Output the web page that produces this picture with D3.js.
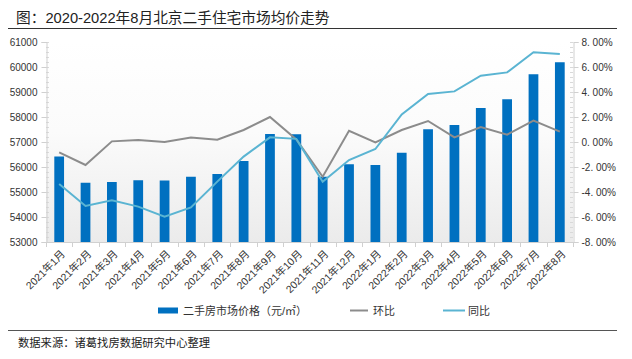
<!DOCTYPE html>
<html><head><meta charset="utf-8">
<script src="https://cdn.jsdelivr.net/npm/d3@7/dist/d3.min.js"></script>
<style>
html,body{margin:0;padding:0;background:#fff;}
svg{display:block;font-family:"Liberation Sans","Noto Sans CJK SC",sans-serif;}
</style></head>
<body><svg id="c" width="632" height="359"></svg>
<script>
const categories = ['2021年1月','2021年2月','2021年3月','2021年4月','2021年5月','2021年6月','2021年7月','2021年8月','2021年9月','2021年10月','2021年11月','2021年12月','2022年1月','2022年2月','2022年3月','2022年4月','2022年5月','2022年6月','2022年7月','2022年8月'];
const price = [56420,55370,55400,55470,55460,55610,55720,56240,57320,57310,55610,56110,56080,56570,57510,57680,58360,58710,59710,60190];
const mom = [-0.83,-1.84,0.05,0.16,0.0,0.35,0.19,0.96,2.0,0.2,-2.78,0.9,-0.03,0.96,1.68,0.37,1.2,0.59,1.71,0.83];
const yoy = [-3.36,-5.12,-4.67,-5.17,-5.97,-5.23,-3.17,-1.17,0.37,0.25,-3.18,-1.44,-0.56,2.21,3.84,4.05,5.3,5.57,7.18,7.04];
const leftTicks = [53000,54000,55000,56000,57000,58000,59000,60000,61000];
const rightTicks = [-8,-6,-4,-2,0,2,4,6,8];
const title = '图：2020-2022年8月北京二手住宅市场均价走势';
const source = '数据来源：诸葛找房数据研究中心整理';
const seriesNames = ['二手房市场价格（元/㎡）','环比','同比'];

const svg = d3.select('#c');
const L = 46, R = 573, T = 42, B = 242;
const colBar = '#0070c0', colMom = '#8c8c8c', colYoy = '#5ab4d2';

// gradient background
const defs = svg.append('defs');
const g = defs.append('linearGradient').attr('id','bg').attr('x1',0).attr('y1',0).attr('x2',0).attr('y2',1);
g.append('stop').attr('offset','0%').attr('stop-color','#ffffff');
g.append('stop').attr('offset','45%').attr('stop-color','#fbfbfb');
g.append('stop').attr('offset','100%').attr('stop-color','#ebebeb');
svg.append('rect').attr('x',L).attr('y',T).attr('width',R-L).attr('height',B-T).attr('fill','url(#bg)');

// title and rules
svg.append('text').attr('x',16).attr('y',23).attr('font-size',14.7).attr('fill','#222').text(title);
svg.append('line').attr('x1',8).attr('x2',617).attr('y1',28.5).attr('y2',28.5).attr('stroke','#333').attr('stroke-width',1.2);
svg.append('line').attr('x1',8).attr('x2',617).attr('y1',330.5).attr('y2',330.5).attr('stroke','#555').attr('stroke-width',1.2);
svg.append('text').attr('x',18).attr('y',347).attr('font-size',11.3).attr('fill','#222').text(source);

const x = d3.scaleBand().domain(categories).range([L,R]).paddingInner(0.63).paddingOuter(0.315);
const y = d3.scaleLinear().domain([53000,61000]).range([B,T]);
const y2 = d3.scaleLinear().domain([-8,8]).range([B,T]);

// minor ticks
const minorL = d3.range(53000,61001,200);
svg.append('g').selectAll('line').data(minorL).join('line')
  .attr('x1',L).attr('x2',L+3).attr('y1',d=>Math.round(y(d))+0.5).attr('y2',d=>Math.round(y(d))+0.5)
  .attr('stroke','#d9d9d9');
const minorR = d3.range(-8,8.01,0.4);
svg.append('g').selectAll('line').data(minorR).join('line')
  .attr('x1',R-3).attr('x2',R).attr('y1',d=>Math.round(y2(d))+0.5).attr('y2',d=>Math.round(y2(d))+0.5)
  .attr('stroke','#d9d9d9');

// left axis
const axL = svg.append('g').attr('transform',`translate(${L+0.5},0)`)
  .call(d3.axisLeft(y).tickValues(leftTicks).tickSize(5).tickPadding(4).tickFormat(d3.format('d')));
axL.select('.domain').attr('stroke','#d0d0d0');
axL.selectAll('.tick line').attr('stroke','#d0d0d0');
axL.selectAll('text').attr('font-size',10).attr('fill','#333').attr('font-family','Liberation Sans, sans-serif');

// right axis
const axR = svg.append('g').attr('transform',`translate(${R+0.5},0)`)
  .call(d3.axisRight(y2).tickValues(rightTicks).tickSize(5).tickPadding(3)
  .tickFormat(d=>d3.format('.2f')(d).replace('.', '. ').replace('−','-')+'%'));
axR.select('.domain').attr('stroke','#d0d0d0');
axR.selectAll('.tick line').attr('stroke','#d0d0d0');
axR.selectAll('text').attr('font-size',10).attr('fill','#333').attr('font-family','Liberation Sans, sans-serif');

// x axis
svg.append('line').attr('x1',L).attr('x2',R).attr('y1',B+0.5).attr('y2',B+0.5).attr('stroke','#d0d0d0');
const step = x.step();
const bounds = d3.range(categories.length+1).map(i=>L+i*step);
svg.append('g').selectAll('line').data(bounds).join('line')
  .attr('x1',d=>Math.round(d)+0.5).attr('x2',d=>Math.round(d)+0.5).attr('y1',B).attr('y2',B+5).attr('stroke','#d0d0d0');
svg.append('g').selectAll('text').data(categories).join('text')
  .attr('transform',d=>`translate(${x(d)+x.bandwidth()/2+4},${B+10}) rotate(-45)`)
  .attr('text-anchor','end').attr('dy','0.35em').attr('font-size',10.5).attr('fill','#333').text(d=>d);

// bars
svg.append('g').selectAll('rect').data(price).join('rect')
  .attr('x',(d,i)=>x(categories[i])).attr('width',x.bandwidth())
  .attr('y',d=>y(d)).attr('height',d=>B-y(d)).attr('fill',colBar);

// lines
const line = d3.line().x((d,i)=>x(categories[i])+x.bandwidth()/2).y(d=>y2(d));
svg.append('path').datum(mom).attr('d',line).attr('fill','none').attr('stroke',colMom).attr('stroke-width',2);
svg.append('path').datum(yoy).attr('d',line).attr('fill','none').attr('stroke',colYoy).attr('stroke-width',2);

// legend
const lg = svg.append('g').attr('font-size',11).attr('fill','#333');
lg.append('rect').attr('x',158).attr('y',307.5).attr('width',20).attr('height',6).attr('fill',colBar);
lg.append('text').attr('x',183).attr('y',314.5).text(seriesNames[0]);
lg.append('line').attr('x1',350).attr('x2',368).attr('y1',310.5).attr('y2',310.5).attr('stroke',colMom).attr('stroke-width',2);
lg.append('text').attr('x',373).attr('y',314.5).text(seriesNames[1]);
lg.append('line').attr('x1',443).attr('x2',465).attr('y1',310.5).attr('y2',310.5).attr('stroke',colYoy).attr('stroke-width',2);
lg.append('text').attr('x',468).attr('y',314.5).text(seriesNames[2]);
</script></body></html>
